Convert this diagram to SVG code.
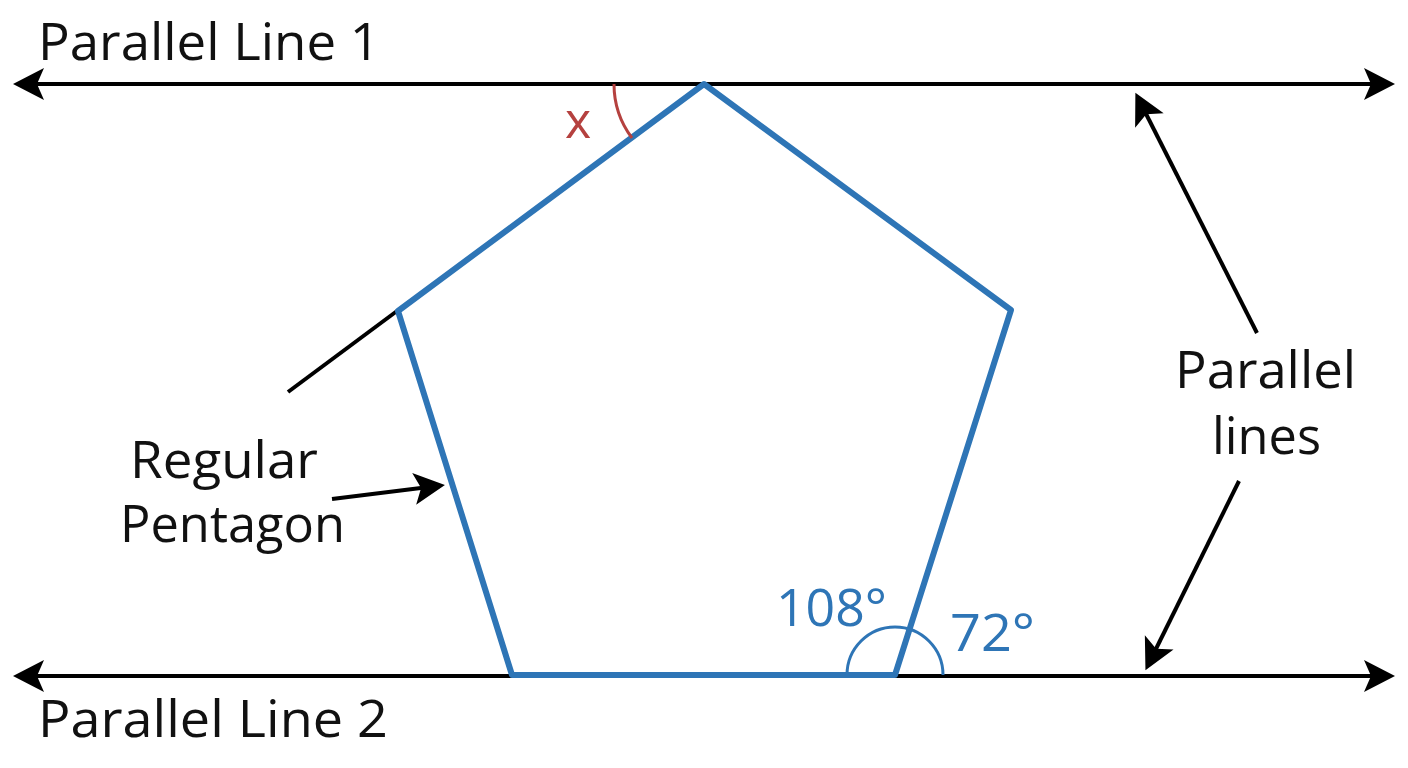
<svg xmlns="http://www.w3.org/2000/svg" width="1408" height="768" viewBox="0 0 1408 768">
<style>
.lbl{font-family:"Open Sans","Liberation Sans",sans-serif;font-size:52px;fill:#111}
.blue{fill:#2e75b6}
.ln{stroke:#000;stroke-width:4;fill:none}
.ptr{stroke:#000;stroke-width:4;fill:none}
</style>
<defs>
<marker id="ah" viewBox="-34 -17 36 34" refX="-8" refY="0" markerWidth="36" markerHeight="34" markerUnits="userSpaceOnUse" orient="auto-start-reverse">
<path d="M0,0 L-31,-16 L-24,0 L-31,16 Z" fill="#000"/>
</marker>
</defs>
<rect width="1408" height="768" fill="#fff"/>
<g id="connectors">
<line class="ln" x1="21" y1="84" x2="1387" y2="84" marker-start="url(#ah)" marker-end="url(#ah)"/>
<line class="ln" x1="21" y1="676" x2="1387" y2="676" marker-start="url(#ah)" marker-end="url(#ah)"/>
<line class="ptr" x1="397" y1="311" x2="288" y2="392"/>
<line class="ptr" x1="332" y1="499" x2="437" y2="486" marker-end="url(#ah)"/>
<line class="ptr" x1="1257" y1="333" x2="1139" y2="100" marker-end="url(#ah)"/>
<line class="ptr" x1="1239" y1="481" x2="1149" y2="663" marker-end="url(#ah)"/>
</g>
<g id="pentagon">
<polygon points="704,84 1011,310 895,675 512,675 398,311" fill="none" stroke="#2e75b6" stroke-width="6" stroke-linejoin="round"/>
</g>
<g id="angle-x">
<path d="M614,84 A90,90 0 0 0 632,138" fill="none" stroke="#b5413f" stroke-width="3"/>
<text x="578" y="138" text-anchor="middle" style="font-family:'Open Sans','Liberation Sans',sans-serif;font-size:50px;fill:#b5413f">x</text>
</g>
<g id="angle-108-72">
<path d="M847,675 A48,48 0 0 1 943,675" fill="none" stroke="#2e75b6" stroke-width="3"/>
<text class="lbl blue" x="776" y="626" textLength="111" lengthAdjust="spacingAndGlyphs">108°</text>
<text class="lbl blue" x="950" y="651" textLength="85" lengthAdjust="spacingAndGlyphs">72°</text>
</g>
<g id="label-line1">
<text class="lbl" x="38" y="60" textLength="342" lengthAdjust="spacingAndGlyphs">Parallel Line 1</text>
</g>
<g id="label-line2">
<text class="lbl" x="38" y="737" textLength="350" lengthAdjust="spacingAndGlyphs">Parallel Line 2</text>
</g>
<g id="label-pentagon">
<text class="lbl" x="130" y="478" textLength="188" lengthAdjust="spacingAndGlyphs">Regular</text>
<text class="lbl" x="120" y="542" textLength="225" lengthAdjust="spacingAndGlyphs">Pentagon</text>
</g>
<g id="label-parallel">
<text class="lbl" x="1175" y="388" textLength="181" lengthAdjust="spacingAndGlyphs">Parallel</text>
<text class="lbl" x="1212" y="454" textLength="109" lengthAdjust="spacingAndGlyphs">lines</text>
</g>
</svg>
